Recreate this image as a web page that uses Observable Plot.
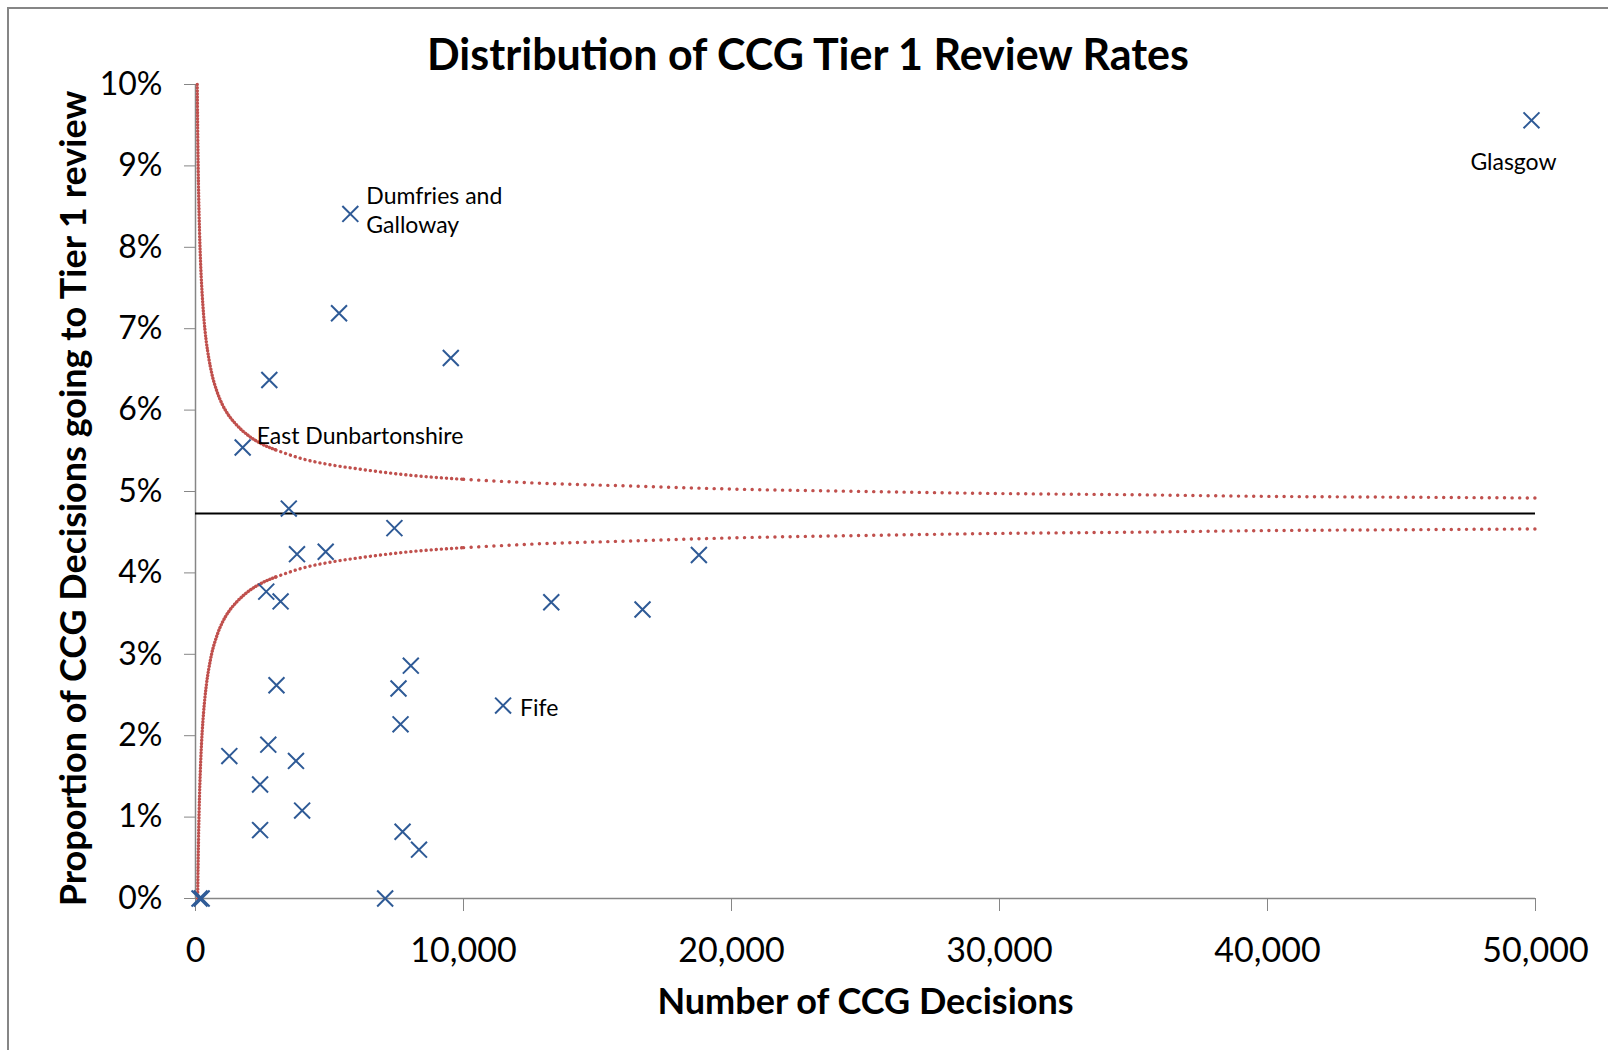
<!DOCTYPE html>
<html><head><meta charset="utf-8">
<script src="https://cdn.jsdelivr.net/npm/d3@7"></script>
<script src="https://cdn.jsdelivr.net/npm/@observablehq/plot@0.6"></script>
<style>
html,body{margin:0;padding:0;background:#fff;}
#wrap{position:relative;width:1608px;height:1050px;overflow:hidden;font-family:Lato,sans-serif;}
#frame{position:absolute;left:7px;top:7px;width:1700px;height:1200px;border-left:2px solid #868686;border-top:2px solid #868686;}
#title{position:absolute;left:0;width:1616px;top:28px;text-align:center;font-weight:700;font-size:43px;line-height:52px;color:#000;}
#chart{position:absolute;left:0;top:0;}
</style></head>
<body><div id="wrap"><div id="frame"></div><div id="chart"></div><div id="title">Distribution of CCG Tier 1 Review Rates</div></div>
<script>
// CCG points: number of decisions and % going to Tier 1 review
const decisions = [49850, 5777, 5356, 9526, 2754, 1760, 3481, 7422, 3787, 4858, 18783, 2640, 3175, 13275, 16680, 8034, 3022, 7575, 11477, 7651, 1262, 2716, 3749, 2410, 3979, 2410, 7727, 8340, 7077, 230, 150];
const rates     = [9.56, 8.41, 7.19, 6.64, 6.37, 5.54, 4.79, 4.55, 4.23, 4.26, 4.22, 3.77, 3.65, 3.64, 3.55, 2.86, 2.62, 2.58, 2.37, 2.14, 1.75, 1.89, 1.69, 1.40, 1.08, 0.84, 0.82, 0.60, 0, 0, 0];
const names     = ["Glasgow", "Dumfries and Galloway", "", "", "", "East Dunbartonshire", "", "", "", "", "", "", "", "", "", "", "", "", "Fife", "", "", "", "", "", "", "", "", "", "", "", ""];

// Overall mean rate (%)
const meanRate = 4.73;

// Funnel control limits (%)
const funnelN     = [65, 70, 80, 90, 100, 120, 150, 200, 250, 300, 400, 500, 600, 800, 1000, 1250, 1500, 2000, 2500, 3000, 4000, 5000, 6000, 8000, 10000, 13000, 16000, 20000, 25000, 30000, 35000, 40000, 45000, 50000];
const funnelUpper = [10.0, 9.80, 9.48, 9.21, 8.98, 8.61, 8.20, 7.73, 7.42, 7.18, 6.85, 6.63, 6.46, 6.23, 6.07, 5.93, 5.83, 5.68, 5.58, 5.51, 5.40, 5.33, 5.28, 5.20, 5.15, 5.10, 5.07, 5.03, 5.00, 4.975, 4.96, 4.94, 4.93, 4.92];
const funnelLower = [null, null, 0.0, 0.26, 0.48, 0.85, 1.26, 1.73, 2.05, 2.28, 2.61, 2.83, 3.00, 3.23, 3.39, 3.53, 3.63, 3.78, 3.88, 3.95, 4.06, 4.13, 4.18, 4.26, 4.31, 4.36, 4.39, 4.43, 4.46, 4.485, 4.50, 4.52, 4.53, 4.54];

// Axis ticks and labels
const xTicks = [0, 10000, 20000, 30000, 40000, 50000];
const yTicks = [0, 1, 2, 3, 4, 5, 6, 7, 8, 9, 10];
const xLabel = "Number of CCG Decisions";
const yLabel = "Proportion of CCG Decisions going to Tier 1 review";

const points = decisions.map((n, i) => ({n, rate: rates[i], name: names[i]}));
const funnel = funnelN.map((n, i) => ({n, upper: funnelUpper[i], lower: funnelLower[i]}));
const lowerRows = funnel.filter(d => d.lower != null);
const seg = (rows, a, b) => rows.filter(d => d.n >= a && d.n <= b);

const red = "#C0504D", blue = "#2E5A96", grey = "#868686";
const dotStyle = gap => ({stroke: red, strokeWidth: 3.4, strokeDasharray: `0.1 ${gap}`, strokeLinecap: "round", curve: "monotone-x"});
const segments = [[0, 3000, 3], [3000, 10000, 5], [10000, 50000, 7.5]];
const labelStyle = {fontSize: 23, fill: "#000"};

const funnelMarks = segments.flatMap(([a, b, gap]) => [
  Plot.line(seg(funnel, a, b), {x: "n", y: "upper", ...dotStyle(gap)}),
  Plot.line(seg(lowerRows, a, b), {x: "n", y: "lower", ...dotStyle(gap)})
]);

const chart = Plot.plot({
  width: 1608, height: 1050,
  marginLeft: 195, marginRight: 73, marginTop: 84, marginBottom: 152,
  style: {fontFamily: "Lato, sans-serif", fontSize: "32px", color: "#000", background: "transparent", overflow: "visible"},
  x: {domain: [0, 50000]},
  y: {domain: [0, 10]},
  marks: [
    Plot.axisX({ticks: xTicks, tickFormat: d3.format(","), tickSize: 13, tickPadding: 26, stroke: grey, fill: "#000", fontSize: 34, label: null}),
    Plot.axisY({ticks: yTicks, tickFormat: d => d + "%", tickSize: 11, tickPadding: 22, stroke: grey, fill: "#000", fontSize: 32, label: null}),
    Plot.ruleX([0], {stroke: grey, strokeWidth: 1.5}),
    Plot.ruleY([0], {stroke: grey, strokeWidth: 1.5}),
    ...funnelMarks,
    Plot.ruleY([meanRate], {stroke: "#000", strokeWidth: 2}),
    Plot.dot(points, {x: "n", y: "rate", symbol: "times", r: 7.3, stroke: blue, strokeWidth: 2}),
    Plot.text(points.filter(d => d.name === "Glasgow"), {x: "n", y: "rate", text: "name", textAnchor: "middle", dx: -18, dy: 42, ...labelStyle}),
    Plot.text(points.filter(d => d.name === "Dumfries and Galloway"), {x: "n", y: "rate", text: d => d.name.replace("and ", "and\n"), textAnchor: "start", lineAnchor: "middle", lineHeight: 1.3, dx: 16, dy: -5, ...labelStyle}),
    Plot.text(points.filter(d => d.name === "East Dunbartonshire"), {x: "n", y: "rate", text: "name", textAnchor: "start", dx: 14, dy: -11, ...labelStyle}),
    Plot.text(points.filter(d => d.name === "Fife"), {x: "n", y: "rate", text: "name", textAnchor: "start", dx: 17, dy: 3, ...labelStyle}),
    Plot.text([xLabel], {frameAnchor: "bottom", textAnchor: "middle", dy: 104, fontSize: 36, fontWeight: 700, lineAnchor: "middle", fill: "#000"}),
    Plot.text([yLabel], {frameAnchor: "left", textAnchor: "middle", rotate: -90, dx: -121, dy: 7, fontSize: 36, fontWeight: 700, lineAnchor: "middle", fill: "#000"})
  ]
});
document.getElementById("chart").appendChild(chart);
</script>
</body></html>
